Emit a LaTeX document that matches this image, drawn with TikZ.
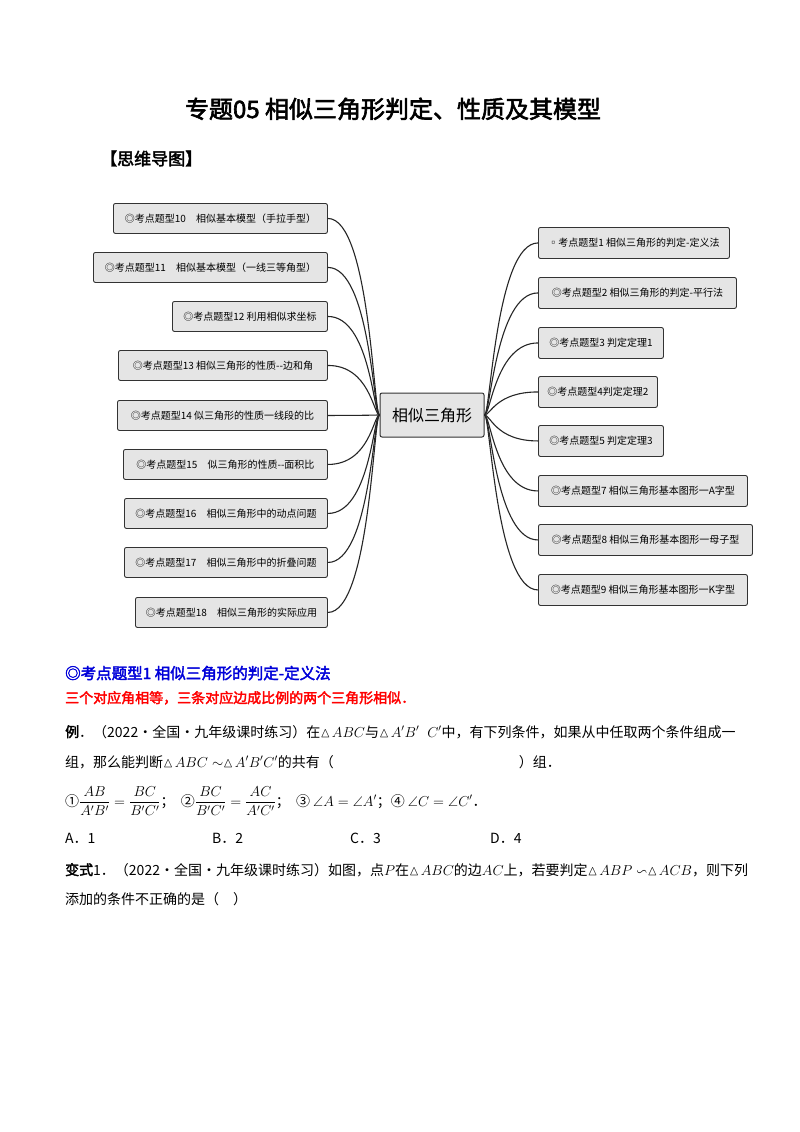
\documentclass[tikz,border=0pt]{standalone}
\usepackage{fontspec}
\usepackage{amsmath,amssymb}
\newfontfamily\cjk{Noto Sans CJK SC}
\newfontfamily\cjkb{Noto Sans CJK SC}[FakeBold=2.5]
\begin{document}
\begin{tikzpicture}[x=1pt,y=-1pt,
  box/.style={draw=black!80,line width=0.9pt,fill=black!10,rounded corners=2pt,inner sep=0pt,anchor=north west,font=\cjk\fontsize{10}{12}\selectfont},
  con/.style={line width=1.1pt,black!85},
  txt/.style={anchor=base west,inner sep=0pt,font=\cjk\fontsize{14}{16}\selectfont}]
\useasboundingbox[fill=white] (0,0) rectangle (800,1132);
\node[anchor=base,inner sep=0pt,font=\cjkb\fontsize{24}{27}\selectfont] (title) at (393,118) {专题05\ 相似三角形判定、性质及其模型};
\node[anchor=base west,inner sep=0pt,font=\cjkb\fontsize{17}{20}\selectfont] (mm) at (100,165) {【思维导图】};
\node[draw=black!80,line width=1pt,fill=black!10,rounded corners=2pt,minimum width=104pt,minimum height=44pt,font=\cjk\fontsize{16}{18}\selectfont] (c) at (432,415) {相似三角形};
% left boxes
\foreach \n/\xa/\ya/\t in {
 10/113/203/{◎考点题型10\quad 相似基本模型（手拉手型）},
 11/93/252/{◎考点题型11\quad 相似基本模型（一线三等角型）},
 12/172/301/{◎考点题型12 利用相似求坐标},
 13/118/350/{◎考点题型13 相似三角形的性质--边和角},
 14/117/400/{◎考点题型14 似三角形的性质一线段的比},
 15/123/449/{◎考点题型15\quad 似三角形的性质--面积比},
 16/124/498/{◎考点题型16\quad 相似三角形中的动点问题},
 17/124/547/{◎考点题型17\quad 相似三角形中的折叠问题},
 18/135/597/{◎考点题型18\quad 相似三角形的实际应用}}{
 \node[box,minimum width={327-\xa},minimum height=30] (L\n) at (\xa,\ya) {\t};
 \draw[con] (L\n.east) .. controls +(42,0) and +(-6,0) .. (c.west);
}
\foreach \n/\xb/\ya/\t in {
 1/729/227/{▫考点题型1 相似三角形的判定-定义法},
 2/736/277/{◎考点题型2 相似三角形的判定-平行法},
 3/663/327/{◎考点题型3 判定定理1},
 4/657/376/{◎考点题型4判定定理2},
 5/663/425/{◎考点题型5 判定定理3},
 7/747/475/{◎考点题型7 相似三角形基本图形一A字型},
 8/752/524/{◎考点题型8 相似三角形基本图形一母子型},
 9/747/574/{◎考点题型9 相似三角形基本图形一K字型}}{
 \node[box,minimum width={\xb-538},minimum height=31] (R\n) at (538,\ya) {\t};
 \draw[con] (R\n.west) .. controls +(-42,0) and +(6,0) .. (c.east);
}
% text
\node[txt,font=\cjkb\fontsize{15.5}{18}\selectfont,text=blue!85!black] (h) at (65,679) {◎考点题型1 相似三角形的判定-定义法};
\node[txt,font=\cjkb\fontsize{14}{16}\selectfont,text=red] (r) at (65,703) {三个对应角相等，三条对应边成比例的两个三角形相似．};
\node[txt] (e1) at (65,737) {{\cjkb 例}．（2022·全国·九年级课时练习）在$\vartriangle\! ABC$与$\vartriangle\! A'B'\;\;C'$中，有下列条件，如果从中任取两个条件组成一};
\node[txt] (e2) at (65,767) {组，那么能判断$\vartriangle\! ABC\sim\vartriangle\! A'B'C'$的共有（\hspace{185pt}）组．};
\node[txt] (e3) at (65,806) {①$\dfrac{AB}{A'B'}=\dfrac{BC}{B'C'}$；\ \ ②$\dfrac{BC}{B'C'}=\dfrac{AC}{A'C'}$；\ \ ③ $\angle A=\angle A'$；④ $\angle C=\angle C'$．};
\node[txt] (a) at (65,843) {A．1};
\node[txt] (b) at (212,843) {B．2};
\node[txt] (cc) at (350,843) {C．3};
\node[txt] (d) at (490,843) {D．4};
\node[txt] (v1) at (65,875) {{\cjkb 变式}1．（2022·全国·九年级课时练习）如图，点$P$在$\vartriangle\! ABC$的边$AC$上，若要判定$\vartriangle\! ABP\backsim\vartriangle\! ACB$，则下列};
\node[txt] (v2) at (65,904) {添加的条件不正确的是（\quad ）};
\end{tikzpicture}
\end{document}
